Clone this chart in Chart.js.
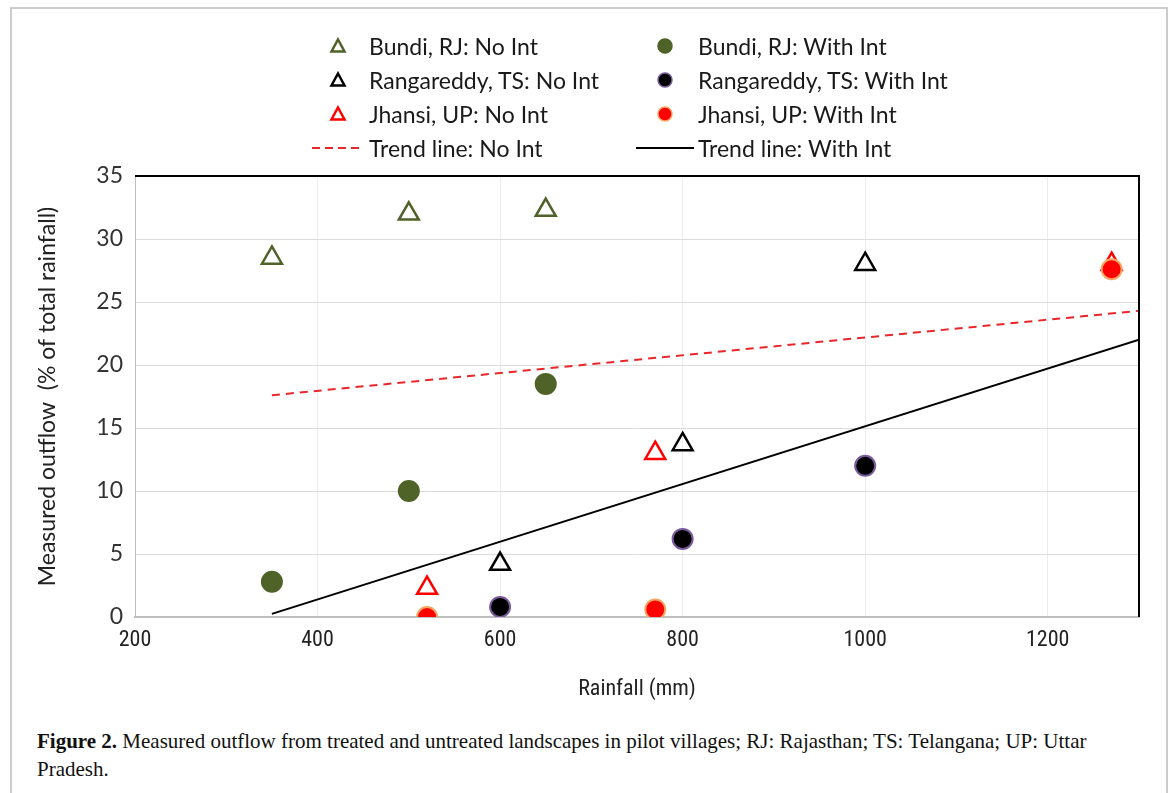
<!DOCTYPE html>
<html>
<head>
<meta charset="utf-8">
<script src="https://cdn.jsdelivr.net/npm/chart.js@4.4.0/dist/chart.umd.min.js"></script>
<style>
body { margin: 0; background: #fff; }
#frame { position: absolute; left: 10px; top: 7px; width: 1154px; height: 800px; border: 2px solid #cccccc; border-bottom: none; }
#wrap { position: absolute; left: 0; top: 0; width: 1173px; height: 720px; }
.leg { position: absolute; font-family: Lato, "Open Sans", sans-serif; font-size: 23px; color: #1a1a1a; white-space: nowrap; line-height: 26px; }
.leg svg { position: absolute; }
#caption { position: absolute; left: 37px; top: 727px; width: 1120px; font-family: "Liberation Serif", serif; font-size: 21px; line-height: 28px; color: #111; }
</style>
</head>
<body>
<div id="frame"></div>
<div id="wrap"><canvas id="outflow-chart"></canvas></div>
<div id="legend"></div>
<div id="caption"><b>Figure 2.</b> Measured outflow from treated and untreated landscapes in pilot villages; RJ: Rajasthan; TS: Telangana; UP: Uttar<br>Pradesh.</div>
<script>
// rainfall (mm) and measured outflow (% of total rainfall)
const rainfallBundi = [350, 500, 650];
const bundiNoInt = [28.5, 32.0, 32.3];
const bundiWithInt = [2.8, 10.0, 18.5];

const rainfallRanga = [600, 800, 1000];
const rangaNoInt = [4.2, 13.7, 28.0];
const rangaWithInt = [0.8, 6.2, 12.0];

const rainfallJhansi = [520, 770, 1270];
const jhansiNoInt = [2.3, 13.0, 28.0];
const jhansiWithInt = [0.0, 0.6, 27.6];

const trendX = [350, 1300];
const trendNoInt = [17.6, 24.3];
const trendWithInt = [0.25, 22.0];

const xTicks = [200, 400, 600, 800, 1000, 1200];

function pts(xs, ys) {
    return xs.map((x, i) => ({ x: x, y: ys[i] }));
}

const green = '#4f6228';

function triangle(label, xs, ys, color) {
    return {
        label: label, data: pts(xs, ys), order: 2,
        pointStyle: 'triangle', pointRadius: 11.5, pointBorderWidth: 2.5,
        borderColor: color, backgroundColor: 'rgba(255,255,255,0)', showLine: false
    };
}
function circle(label, xs, ys, fill, edge) {
    return {
        label: label, data: pts(xs, ys), order: 1,
        pointStyle: 'circle', pointRadius: 10, pointBorderWidth: 2,
        borderColor: edge, backgroundColor: fill, showLine: false
    };
}

const datasets = [
    triangle('Bundi, RJ: No Int', rainfallBundi, bundiNoInt, green),
    circle('Bundi, RJ: With Int', rainfallBundi, bundiWithInt, green, green),
    triangle('Rangareddy, TS: No Int', rainfallRanga, rangaNoInt, '#000000'),
    circle('Rangareddy, TS: With Int', rainfallRanga, rangaWithInt, '#000000', '#7a5c9e'),
    triangle('Jhansi, UP: No Int', rainfallJhansi, jhansiNoInt, '#ff0000'),
    circle('Jhansi, UP: With Int', rainfallJhansi, jhansiWithInt, '#ff0000', '#f9a562'),
    {
        label: 'Trend line: No Int', type: 'line', data: pts(trendX, trendNoInt), order: 3,
        borderColor: '#e8262b', borderWidth: 2, borderDash: [8, 6], pointRadius: 0, showLine: true, fill: false
    },
    {
        label: 'Trend line: With Int', type: 'line', data: pts(trendX, trendWithInt), order: 3,
        borderColor: '#000000', borderWidth: 2, pointRadius: 0, showLine: true, fill: false
    }
];

// top and right edges of the plot area
const frameLines = {
    id: 'frameLines',
    afterDraw(chart) {
        const a = chart.chartArea;
        const c = chart.ctx;
        c.save();
        c.strokeStyle = '#000';
        c.lineWidth = 2;
        c.beginPath();
        c.moveTo(a.left, a.top);
        c.lineTo(a.right, a.top);
        c.lineTo(a.right, a.bottom);
        c.stroke();
        c.restore();
    }
};

const yFont = { family: 'Lato, "Open Sans", sans-serif', size: 23 };
const xFont = { family: '"Liberation Sans Narrow", "Roboto Condensed", "DejaVu Sans Condensed", sans-serif', size: 22 };

new Chart(document.getElementById('outflow-chart'), {
    type: 'scatter',
    data: { datasets: datasets },
    plugins: [frameLines],
    options: {
        responsive: true,
        maintainAspectRatio: false,
        animation: false,
        layout: { padding: { top: 176, right: 34, bottom: 13, left: 28 } },
        plugins: { legend: { display: false }, tooltip: { enabled: false } },
        scales: {
            x: {
                type: 'linear', min: 200, max: 1300,
                afterBuildTicks: s => { s.ticks = xTicks.map(v => ({ value: v })); },
                afterFit: s => { s.height = 90; },
                grid: { color: '#ececec', drawTicks: false },
                border: { color: '#bfbfbf', width: 2 },
                ticks: { font: xFont, color: '#222', padding: 10, callback: v => String(v) },
                title: { display: true, text: 'Rainfall (mm)', font: xFont, color: '#222', padding: 4 }
            },
            y: {
                type: 'linear', min: 0, max: 35,
                afterFit: s => { s.width = 107; },
                grid: { color: '#dcdcdc', drawTicks: false },
                border: { color: '#bfbfbf', width: 1 },
                ticks: { stepSize: 5, font: yFont, color: '#333', padding: 12 },
                title: { display: true, text: 'Measured outflow  (% of total rainfall)', font: yFont, color: '#222', padding: { top: 6, bottom: 4 } }
            }
        }
    }
});

// legend: two columns, four rows
const legendPos = [
    [338, 46], [665, 46], [338, 80], [665, 80], [338, 114], [665, 114], [336, 148], [665, 148]
];
const legendEl = document.getElementById('legend');
datasets.forEach((ds, i) => {
    const [cx, cy] = legendPos[i];
    const item = document.createElement('div');
    item.className = 'leg';
    const textLeft = i % 2 === 0 ? 369 : 698;
    item.style.left = textLeft + 'px';
    item.style.top = (cy - 13) + 'px';
    let svg;
    if (ds.type === 'line') {
        const x0 = i === 6 ? 312 : 636;
        const x1 = i === 6 ? 362 : 694;
        const dash = ds.borderDash ? 'stroke-dasharray="8 5"' : '';
        svg = `<svg width="${x1 - x0}" height="6" style="left:${x0 - textLeft}px;top:10px"><line x1="0" y1="3" x2="${x1 - x0}" y2="3" stroke="${ds.borderColor}" stroke-width="2" ${dash}/></svg>`;
    } else if (ds.pointStyle === 'triangle') {
        svg = `<svg width="18" height="18" style="left:${cx - 9 - textLeft}px;top:4px"><polygon points="9,2.5 15.5,14.5 2.5,14.5" fill="none" stroke="${ds.borderColor}" stroke-width="2.5"/></svg>`;
    } else {
        svg = `<svg width="18" height="18" style="left:${cx - 9 - textLeft}px;top:4px"><circle cx="9" cy="9" r="7" fill="${ds.backgroundColor}" stroke="${ds.borderColor}" stroke-width="1.5"/></svg>`;
    }
    item.innerHTML = svg + ds.label;
    legendEl.appendChild(item);
});
</script>
</body>
</html>
